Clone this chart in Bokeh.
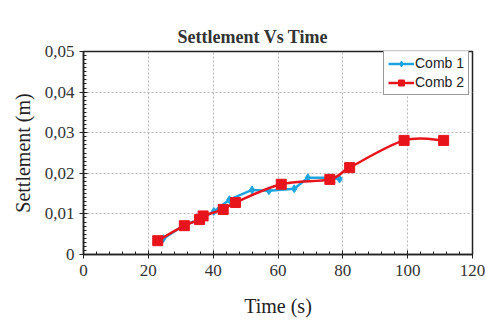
import numpy as np
from bokeh.plotting import figure
from bokeh.models import Legend, LegendItem, SingleIntervalTicker, Range1d
from bokeh.embed import file_html
from bokeh.resources import INLINE

# Data
comb1_time = [24.6, 31.0, 36.5, 40.2, 45.0, 52.0, 57.2, 65.0, 69.2, 76.0, 79.0]
comb1_settle = [0.0039, 0.0072, 0.0088, 0.0106, 0.0135, 0.0159, 0.0157, 0.0162, 0.0189, 0.0189, 0.0186]
comb2_time = [22.9, 31.1, 35.8, 36.9, 43.1, 46.9, 61.0, 76.0, 82.1, 98.9, 111.1]
comb2_settle = [0.0034, 0.0071, 0.0086, 0.0095, 0.0111, 0.0128, 0.0173, 0.0185, 0.0214, 0.0281, 0.0281]
y_tick_values = [0, 0.01, 0.02, 0.03, 0.04, 0.05]
y_tick_labels = ["0", "0,01", "0,02", "0,03", "0,04", "0,05"]

BLUE = "#1ea5e0"
RED = "#e8141c"
SERIF = "Liberation Serif"

p = figure(width=485, height=322, output_backend="svg", toolbar_location=None,
           x_range=Range1d(0, 120), y_range=Range1d(0, 0.05),
           min_border_left=83, min_border_right=13, min_border_top=51, min_border_bottom=68)
p.background_fill_color = "white"
p.border_fill_color = "white"
p.outline_line_color = "#222222"
p.outline_line_width = 1.5

p.title.text = "Settlement Vs Time"
p.title.text_font = SERIF
p.title.text_font_size = "18px"
p.title.text_font_style = "bold"
p.title.text_color = "#333333"
p.title.align = "left"
p.title.offset = 94

p.xaxis.ticker = SingleIntervalTicker(interval=20, num_minor_ticks=5)
p.yaxis.ticker = SingleIntervalTicker(interval=0.01, num_minor_ticks=10)
p.yaxis.major_label_overrides = {v: l for v, l in zip(y_tick_values, y_tick_labels)}

for ax in (p.xaxis, p.yaxis):
    ax.axis_line_color = "#222222"
    ax.axis_line_width = 1.5
    ax.major_tick_line_color = "#222222"
    ax.minor_tick_line_color = "#222222"
    ax.major_tick_in = 4
    ax.major_tick_out = 4
    ax.minor_tick_in = 3
    ax.minor_tick_out = 0
    ax.major_label_text_font = SERIF
    ax.major_label_text_font_size = "17px"
    ax.major_label_text_color = "#333333"
    ax.axis_label_text_font = SERIF
    ax.axis_label_text_font_size = "20px"
    ax.axis_label_text_font_style = "normal"
    ax.axis_label_text_color = "#222222"

p.xaxis.axis_label = "Time (s)"
p.yaxis.axis_label = "Settlement (m)"
p.yaxis.axis_label_standoff = 8
p.xaxis.axis_label_standoff = 16
p.xaxis.major_label_standoff = 6

p.grid.grid_line_color = "#b5b5b5"
p.grid.grid_line_dash = "2 2"
p.grid.grid_line_width = 1

# Comb 1: straight segments with diamonds
l1 = p.line(comb1_time, comb1_settle, line_color=BLUE, line_width=2.5)
s1 = p.scatter(comb1_time, comb1_settle, marker="diamond", size=8, fill_color=BLUE, line_color=BLUE)

# Comb 2: smoothed curve (Catmull-Rom -> Bezier control points) with squares
xs = np.array(comb2_time)
ys = np.array(comb2_settle)
xp = np.concatenate([[xs[0]], xs, [xs[-1]]])
yp = np.concatenate([[ys[0]], ys, [ys[-1]]])
n = len(xs)
x0 = xs[:-1]; y0 = ys[:-1]; x1 = xs[1:]; y1 = ys[1:]
cx0 = x0 + (xp[2:n + 1] - xp[0:n - 1]) / 6.0
cy0 = y0 + (yp[2:n + 1] - yp[0:n - 1]) / 6.0
cx1 = x1 - (xp[3:n + 2] - xp[1:n]) / 6.0
cy1 = y1 - (yp[3:n + 2] - yp[1:n]) / 6.0
p.bezier(x0=x0, y0=y0, x1=x1, y1=y1, cx0=cx0, cy0=cy0, cx1=cx1, cy1=cy1,
         line_color=RED, line_width=2.5)
s2 = p.scatter(comb2_time, comb2_settle, marker="square", size=10, fill_color=RED, line_color=RED)
# legend proxy for the red curve (single point -> draws nothing in the plot)
l2 = p.line(x=[comb2_time[0]], y=[comb2_settle[0]], line_color=RED, line_width=2.5)

legend = Legend(items=[LegendItem(label="Comb 1", renderers=[l1, s1]),
                       LegendItem(label="Comb 2", renderers=[l2, s2])],
                location=(300, 159))
legend.border_line_color = "#333333"
legend.border_line_width = 1
legend.background_fill_color = "white"
legend.label_text_font = "Liberation Sans"
legend.label_text_font_size = "14px"
legend.label_text_color = "#222222"
legend.label_standoff = 1
legend.glyph_width = 26
legend.glyph_height = 15
legend.label_height = 15
legend.spacing = 3
legend.padding = 4
legend.margin = 0
p.add_layout(legend)

open("out.html", "w").write(file_html(p, INLINE))
